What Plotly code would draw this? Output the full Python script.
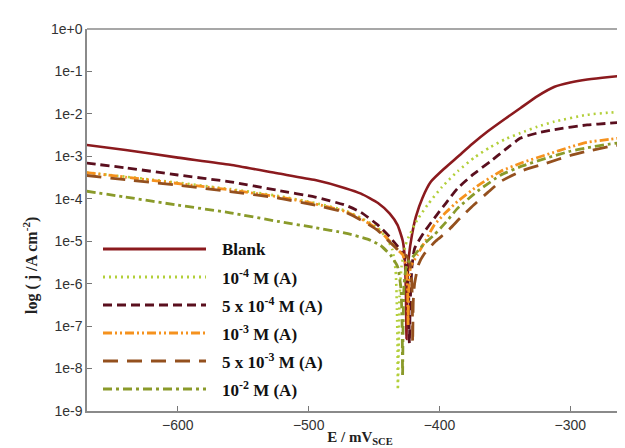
import plotly.graph_objects as go

# ---------------- data ----------------
names = ["Blank", "10<sup>-4</sup> M (A)", "5 x 10<sup>-4</sup> M (A)",
         "10<sup>-3</sup> M (A)", "5 x 10<sup>-3</sup> M (A)", "10<sup>-2</sup> M (A)"]

blank_E = [-670, -640, -600, -560, -524, -495, -472, -460, -447, -438, -432, -428, -426.5, -425.6, -425.2,
           -424.6, -423.5, -421, -418, -413, -406.6, -396, -386, -375, -363, -350, -338, -325, -312, -300, -287, -270, -252]
blank_logj = [-2.73, -2.85, -3.03, -3.2, -3.40, -3.56, -3.75, -3.88, -4.10, -4.35, -4.62, -5.0, -5.4, -6.3, -7.3,
              -6.2, -5.4, -4.85, -4.42, -3.98, -3.6, -3.28, -3.01, -2.71, -2.41, -2.12, -1.86, -1.58, -1.36, -1.26, -1.19, -1.13, -1.08]

a4_E = [-670, -640, -600, -560, -524, -495, -472, -460, -447, -440, -436, -433.5, -432.5, -432, -431.8,
        -431.2, -430.5, -429, -426, -424, -417, -409, -398, -386, -373, -362, -350, -338, -325, -312, -287, -270, -252]
a4_logj = [-3.38, -3.48, -3.62, -3.77, -3.93, -4.1, -4.28, -4.45, -4.69, -4.95, -5.2, -5.7, -6.6, -7.6, -8.5,
           -7.5, -6.3, -5.6, -5.1, -4.93, -4.5, -4.14, -3.72, -3.35, -3.02, -2.8, -2.6, -2.45, -2.3, -2.18, -2.02, -1.97, -1.94]

b4_E = [-670, -640, -600, -560, -524, -495, -472, -460, -447, -438, -432, -428, -425, -423.5, -423,
        -422.3, -421, -419, -412, -404, -395, -386, -374, -361, -350, -338, -325, -312, -287, -270, -252]
b4_logj = [-3.16, -3.27, -3.44, -3.6, -3.80, -3.96, -4.15, -4.32, -4.62, -4.9, -5.12, -5.3, -5.6, -6.3, -7.4,
           -6.4, -5.6, -5.17, -4.8, -4.46, -4.1, -3.75, -3.42, -3.12, -2.85, -2.57, -2.45, -2.37, -2.26, -2.22, -2.18]

a3_E = [-670, -640, -600, -560, -524, -495, -472, -460, -447, -438, -432, -428, -425.5, -424.3, -424,
        -423.5, -422, -416.8, -410, -404, -395, -386, -370, -353, -336, -318, -300, -287, -270, -252]
a3_logj = [-3.38, -3.49, -3.64, -3.79, -3.95, -4.12, -4.30, -4.47, -4.72, -5.0, -5.2, -5.32, -5.6, -6.2, -7.0,
           -6.2, -5.6, -5.32, -4.95, -4.62, -4.32, -4.06, -3.68, -3.35, -3.14, -2.96, -2.78, -2.67, -2.6, -2.53]

b3_E = [-670, -640, -600, -560, -524, -495, -472, -460, -447, -438, -430, -425, -422, -420.8, -420.5,
        -420, -419, -416, -411.7, -403, -394, -384, -373.6, -363, -353, -336, -318, -300, -287, -270, -252]
b3_logj = [-3.45, -3.55, -3.68, -3.83, -3.98, -4.15, -4.32, -4.5, -4.75, -5.02, -5.25, -5.35, -5.6, -6.3, -7.4,
           -6.4, -6.0, -5.55, -5.3, -5.0, -4.77, -4.45, -4.14, -3.85, -3.59, -3.33, -3.16, -2.98, -2.88, -2.77, -2.69]

a2_E = [-670, -640, -600, -560, -524, -495, -472, -455, -445, -437.4, -432, -429.5, -428.5, -428.2,
        -427.8, -427, -425, -419, -412, -404, -395, -386, -370, -353, -336, -318, -300, -287, -270, -252]
a2_logj = [-3.82, -3.96, -4.15, -4.33, -4.53, -4.68, -4.81, -4.95, -5.1, -5.33, -5.6, -6.1, -7.0, -8.2,
           -7.0, -6.0, -5.55, -5.32, -5.07, -4.85, -4.55, -4.22, -3.8, -3.44, -3.22, -3.04, -2.88, -2.8, -2.71, -2.65]

series_E = [blank_E, a4_E, b4_E, a3_E, b3_E, a2_E]
series_logj = [blank_logj, a4_logj, b4_logj, a3_logj, b3_logj, a2_logj]

y_tickvals = [1e0, 1e-1, 1e-2, 1e-3, 1e-4, 1e-5, 1e-6, 1e-7, 1e-8, 1e-9]
y_ticktext = ["1e+0", "1e-1", "1e-2", "1e-3", "1e-4", "1e-5", "1e-6", "1e-7", "1e-8", "1e-9"]
x_tickvals = [-600, -500, -400, -300]

# ---------------- styles ----------------
colors = ["#8B1A1E", "#B3CF3A", "#5A0F1E", "#F5921E", "#94501E", "#8A9A2A"]
dashes = ["solid", "2px,4px", "9px,5px", "9px,3px,2px,3px,2px,3px", "15px,9px", "9px,4px,3px,4px"]
widths = [2.6, 2.6, 2.8, 2.8, 2.8, 2.8]

W, H = 625, 448
ml, mt, mb, mr = 79, 21, 45, 0

fig = go.Figure()
for E, lj, c, d, w in zip(series_E, series_logj, colors, dashes, widths):
    fig.add_trace(go.Scatter(
        x=E, y=[10 ** v for v in lj], mode="lines",
        line=dict(color=c, dash=d, width=w, shape="spline", smoothing=0.5),
        showlegend=False, hoverinfo="skip"))

# custom legend inside plot (long line samples as in the reference)
pw, ph = W - ml - mr, H - mt - mb
leg_y_px = [241, 269, 297, 325, 353, 381]
x0p, x1p, xtp = 95, 198, 212
shapes = []
annotations = []
for i, nm in enumerate(names):
    yp = (H - mb - leg_y_px[i]) / ph
    shapes.append(dict(type="line", xref="paper", yref="paper",
                       x0=(x0p - ml) / pw, x1=(x1p - ml) / pw, y0=yp, y1=yp,
                       line=dict(color=colors[i], dash=dashes[i], width=widths[i] + 0.3)))
    annotations.append(dict(xref="paper", yref="paper", x=(xtp - ml) / pw, y=yp,
                            xanchor="left", yanchor="middle", showarrow=False,
                            text="<b>" + nm + "</b>",
                            font=dict(family="Liberation Serif", size=17, color="#111")))
# y-axis title (placed like the reference, a little below the plot centre)
annotations.append(dict(xref="paper", yref="paper", x=(22 - ml) / pw, y=(H - mb - 258) / ph,
                        xanchor="center", yanchor="middle", showarrow=False, textangle=-90,
                        text="<b>log ( j /A cm<sup>-2</sup>)</b>",
                        font=dict(family="Liberation Serif", size=16, color="#222")))
# top frame line
shapes.append(dict(type="line", xref="paper", yref="paper", x0=0, x1=1, y0=1, y1=1,
                   line=dict(color="#8a8a8a", width=1.5)))

axis_font = dict(family="Liberation Sans", size=14, color="#333")
fig.update_layout(
    width=W, height=H,
    margin=dict(l=ml, r=mr, t=mt, b=mb),
    paper_bgcolor="white", plot_bgcolor="white",
    shapes=shapes, annotations=annotations,
    xaxis=dict(range=[-669.5, -252], tickvals=x_tickvals, ticks="inside", ticklen=5,
               tickcolor="#777", showline=True, linecolor="#8a8a8a", linewidth=1.5,
               showgrid=False, zeroline=False, tickfont=axis_font,
               title=dict(text="<b>E / mV<sub>SCE</sub></b>", standoff=0,
                          font=dict(family="Liberation Serif", size=15, color="#222"))),
    yaxis=dict(type="log", range=[-9, 0], tickvals=y_tickvals, ticktext=y_ticktext,
               ticks="inside", ticklen=5, tickcolor="#777", showline=True,
               linecolor="#8a8a8a", linewidth=1.5, showgrid=False, zeroline=False,
               tickfont=axis_font),
)

fig.write_html("out.html")
